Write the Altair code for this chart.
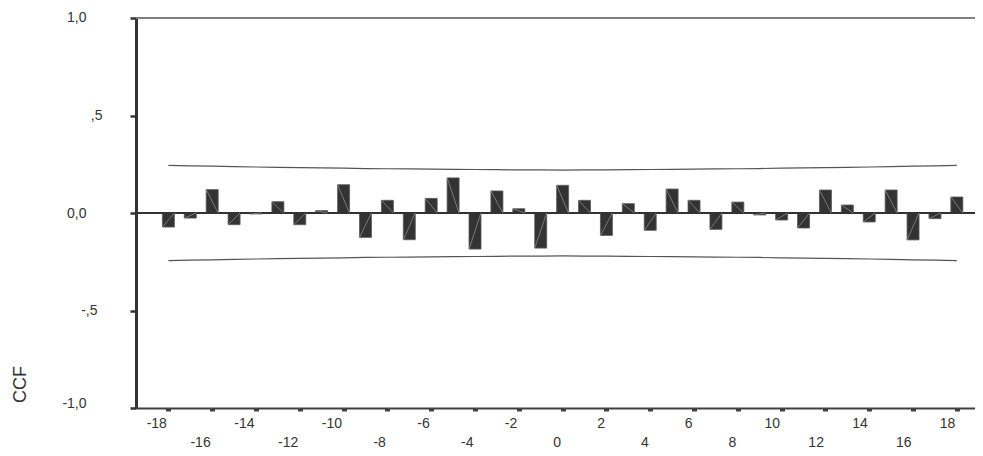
import altair as alt
import pandas as pd

# ---- data ----
lags = list(range(-18, 19))
ccf = [-0.072, -0.026, 0.120, -0.060, -0.005, 0.058, -0.060, 0.012, 0.145, -0.125, 0.065, -0.137,
       0.075, 0.180, -0.185, 0.113, 0.022, -0.180, 0.142, 0.065, -0.115, 0.048, -0.089, 0.123,
       0.065, -0.084, 0.056, -0.010, -0.036, -0.077, 0.118, 0.041, -0.046, 0.118, -0.138, -0.029, 0.082]
upper = [0.244, 0.242, 0.240, 0.238, 0.236, 0.234, 0.233, 0.231, 0.230, 0.228, 0.227, 0.226, 0.225,
         0.224, 0.223, 0.222, 0.221, 0.221, 0.220, 0.221, 0.221, 0.222, 0.223, 0.224, 0.225, 0.226,
         0.227, 0.228, 0.230, 0.231, 0.233, 0.234, 0.236, 0.238, 0.240, 0.242, 0.244]
lower = [-0.244, -0.242, -0.240, -0.238, -0.236, -0.234, -0.233, -0.231, -0.230, -0.228, -0.227, -0.226, -0.225,
         -0.224, -0.223, -0.222, -0.221, -0.221, -0.220, -0.221, -0.221, -0.222, -0.223, -0.224, -0.225, -0.226,
         -0.227, -0.228, -0.230, -0.231, -0.233, -0.234, -0.236, -0.238, -0.240, -0.242, -0.244]
x_tick_values = list(range(-18, 19, 2))
y_tick_values = [-1.0, -0.5, 0.0, 0.5, 1.0]
y_tick_labels = ["-1,0", "-,5", "0,0", ",5", "1,0"]
y_title = "CCF"

df = pd.DataFrame({"lag": lags, "ccf": ccf, "upper": upper, "lower": lower})

FONT = "Liberation Sans"
DARK = "#333333"

label_expr = " : ".join(f"datum.value == {v} ? '{l}'" for v, l in zip(y_tick_values, y_tick_labels)) + " : ''"

x_scale = alt.Scale(domain=[-19.25, 18.6], nice=False, zero=False)
y_scale = alt.Scale(domain=[-1, 1], nice=False)

x_axis = alt.Axis(
    values=x_tick_values, title=None, grid=False,
    labelExpr="'' + datum.value",
    domainColor="#404040", domainWidth=2,
    tickColor="#404040", tickSize=3, tickWidth=5,
    labelAlign="right", labelOffset=-2, labelBaseline="top",
    labelFont=FONT, labelFontSize=14, labelColor=DARK,
    labelPadding={"condition": {"test": "datum.value % 4 == 0", "value": 24}, "value": 5},
    labelFlush=False, labelOverlap=False,
)

y_axis = alt.Axis(
    values=y_tick_values, labelExpr=label_expr, title=y_title, grid=False,
    domainColor=DARK, domainWidth=3,
    tickColor=DARK, tickSize=6, tickWidth=2.5,
    labelAlign="right", labelBaseline="middle",
    labelFont=FONT, labelFontSize=14, labelColor=DARK,
    labelPadding={"condition": [
        {"test": "datum.value == 0.5", "value": 28},
        {"test": "datum.value == -0.5", "value": 33},
    ], "value": 44},
    labelOffset={"condition": [
        {"test": "datum.value == -1", "value": -5},
        {"test": "datum.value == 1", "value": -1},
    ], "value": 0},
    labelFlush=False, labelOverlap=False,
    titleFont=FONT, titleFontSize=18, titleFontWeight="normal", titleColor=DARK,
    titleX=-116, titleY=366, titleAlign="center", titleBaseline="middle", titleAngle=-90,
)

base = alt.Chart(df)

top_line = base.mark_rule(color="#808080", strokeWidth=1.5).encode(y=alt.datum(1, scale=y_scale))
zero_line = base.mark_rule(color=DARK, strokeWidth=1).encode(y=alt.datum(0))

bars = base.mark_bar(size=12, color=DARK, stroke="#5a5a5a", strokeWidth=0.8).encode(
    x=alt.X("lag:Q", scale=x_scale, axis=x_axis),
    y=alt.Y("ccf:Q", scale=y_scale, axis=y_axis),
)

diag = base.transform_calculate(
    xl="datum.lag - 0.27", xr="datum.lag + 0.27", z="0"
).mark_rule(color="#8a8a8a", strokeWidth=0.8).encode(
    x=alt.X("xl:Q", scale=x_scale),
    x2="xr:Q",
    y=alt.Y("ccf:Q", scale=y_scale),
    y2="z:Q",
)

up_line = base.mark_line(color="#555555", strokeWidth=1.2).encode(
    x=alt.X("lag:Q", scale=x_scale), y=alt.Y("upper:Q", scale=y_scale))
low_line = base.mark_line(color="#555555", strokeWidth=1.2).encode(
    x=alt.X("lag:Q", scale=x_scale), y=alt.Y("lower:Q", scale=y_scale))

chart = alt.layer(bars, top_line, zero_line, diag, up_line, low_line).properties(
    width=839, height=390,
    autosize=alt.AutoSizeParams(type="none"),
    padding={"left": 128, "top": 10, "right": 0, "bottom": 40},
    background="white",
).configure_view(stroke=None)

chart.save("out.html", embed_options={"renderer": "svg", "actions": False})
